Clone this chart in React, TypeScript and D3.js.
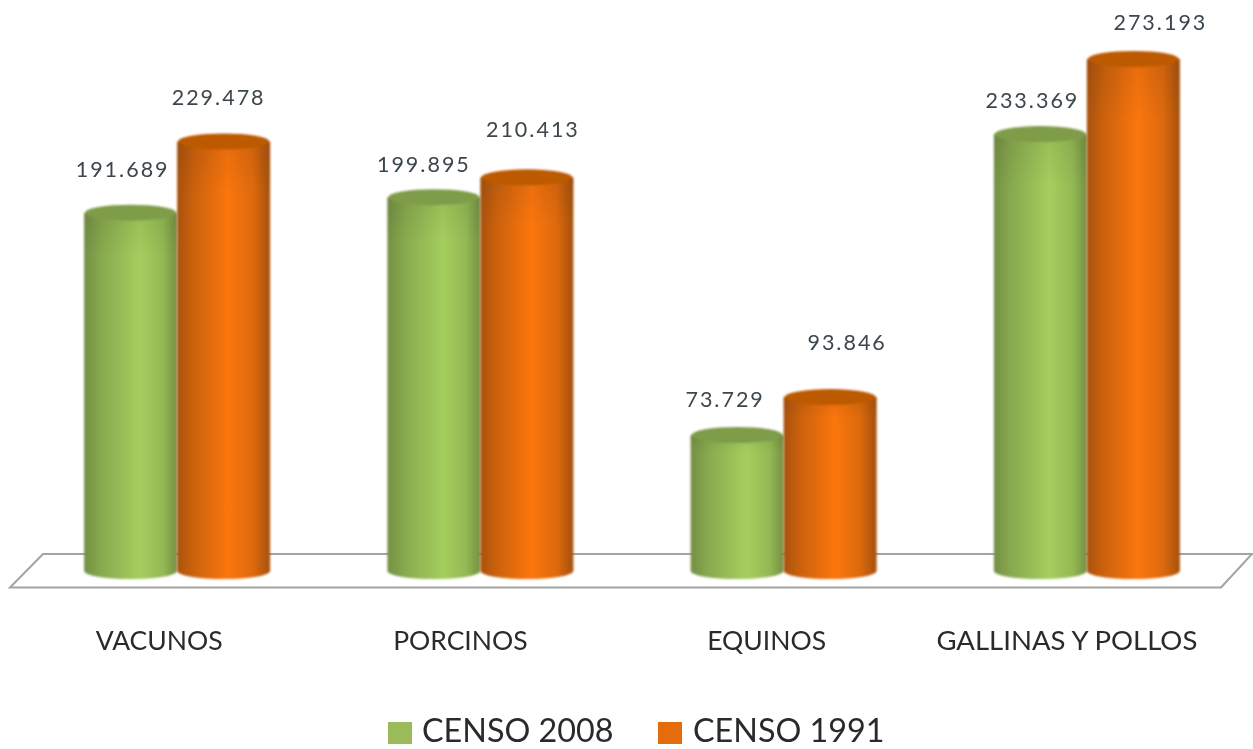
import React from "react";
import * as d3 from "d3";

const categories = ["VACUNOS", "PORCINOS", "EQUINOS", "GALLINAS Y POLLOS"];
const censo2008 = [191689, 199895, 73729, 233369];
const censo1991 = [229478, 210413, 93846, 273193];
const seriesNames = ["CENSO 2008", "CENSO 1991"];

// Hand-placed label offsets from the top of each cylinder, as in the reference
const offsets2008 = [[-8, -36], [-10, -25], [-12, -28], [-8, -26]];
const offsets1991 = [[-5, -36], [6, -40], [17, -47], [27, -29]];
// Hand-placed category label centres relative to each group's centre
const categoryShift = [-18, -20, -17, -20];

const W = 1253, H = 749;
const FONT = "Lato, 'Open Sans', sans-serif";
const fmt = (v: number) => d3.format(",")(v).replace(",", ".");

const x = d3.scaleBand<string>().domain(categories).range([25.5, 1238.5]);
const y = d3.scaleLinear().domain([0, 273193]).range([574, 59]);
const barW = 93, ry = 8, baseY = 571;

function Cylinder({ cx, v, side, top }: { cx: number; v: number; side: string; top: string }) {
  const yt = y(v);
  const l = cx - barW / 2, r = cx + barW / 2;
  const d = `M${l},${yt}L${l},${baseY}A${barW / 2},${ry} 0 0 0 ${r},${baseY}L${r},${yt}Z`;
  return (
    <g filter="url(#soft)">
      <path d={d} fill={`url(#${side})`} />
      <path d={d} fill="url(#fade)" />
      <ellipse cx={cx} cy={yt} rx={barW / 2 - 1} ry={ry} fill={top} />
    </g>
  );
}

export default function App() {
  const floor = "M10,587.5L1221,587.5L1252,554L43,554Z";
  return (
    <svg width={W} height={H} style={{ position: "absolute", left: 0, top: 0, background: "#fff" }}>
      <defs>
        <linearGradient id="g" x1="0" x2="1" y1="0" y2="0">
          <stop offset="0" stopColor="#748f44" />
          <stop offset="0.18" stopColor="#87a94e" />
          <stop offset="0.6" stopColor="#a5ce5e" />
          <stop offset="0.85" stopColor="#93b953" />
          <stop offset="1" stopColor="#748f44" />
        </linearGradient>
        <linearGradient id="o" x1="0" x2="1" y1="0" y2="0">
          <stop offset="0" stopColor="#a85208" />
          <stop offset="0.18" stopColor="#cc6208" />
          <stop offset="0.55" stopColor="#fb760a" />
          <stop offset="0.82" stopColor="#dd6a08" />
          <stop offset="1" stopColor="#a55108" />
        </linearGradient>
        <linearGradient id="fade" x1="0" x2="0" y1="0" y2="1">
          <stop offset="0" stopColor="#000" stopOpacity="0.08" />
          <stop offset="0.12" stopColor="#000" stopOpacity="0" />
          <stop offset="1" stopColor="#000" stopOpacity="0" />
        </linearGradient>
        <filter id="soft" x="-5%" y="-5%" width="110%" height="110%">
          <feGaussianBlur stdDeviation="1" />
        </filter>
        <filter id="text" x="-5%" y="-20%" width="110%" height="140%">
          <feGaussianBlur stdDeviation="0.5" />
        </filter>
      </defs>

      <path d={floor} fill="#fff" stroke="#a3a3a6" strokeWidth={2} filter="url(#text)" />
      <line x1={10} x2={1221} y1={588} y2={588} stroke="#a3a3a6" strokeWidth={3} filter="url(#text)" />

      {categories.map((c, i) => {
        const center = x(c)! + x.bandwidth() / 2;
        const c8 = center - barW / 2, c9 = center + barW / 2;
        return (
          <g key={c}>
            <Cylinder cx={c8} v={censo2008[i]} side="g" top="#7f9c49" />
            <Cylinder cx={c9} v={censo1991[i]} side="o" top="#bd5a06" />
            <g fontFamily={FONT} fill="#3c464c" filter="url(#text)" textAnchor="middle" fontSize={21.5}>
              <text x={c8 + offsets2008[i][0]} y={y(censo2008[i]) + offsets2008[i][1]} letterSpacing={2}>{fmt(censo2008[i])}</text>
              <text x={c9 + offsets1991[i][0]} y={y(censo1991[i]) + offsets1991[i][1]} letterSpacing={2}>{fmt(censo1991[i])}</text>
            </g>
            <text x={center + categoryShift[i]} y={650} fontFamily={FONT} fontSize={i === 3 ? 27.5 : 26.5} fill="#2b2b2b" textAnchor="middle" filter="url(#text)">{c}</text>
          </g>
        );
      })}

      <g fontFamily={FONT} fontSize={32.3} fill="#2b2b2b" filter="url(#text)">
        <rect x={388} y={722} width={24} height={22} fill="#9bbb59" />
        <text x={422} y={742}>{seriesNames[0]}</text>
        <rect x={658} y={722} width={24} height={22} fill="#e46c0a" />
        <text x={693} y={742}>{seriesNames[1]}</text>
      </g>
    </svg>
  );
}
